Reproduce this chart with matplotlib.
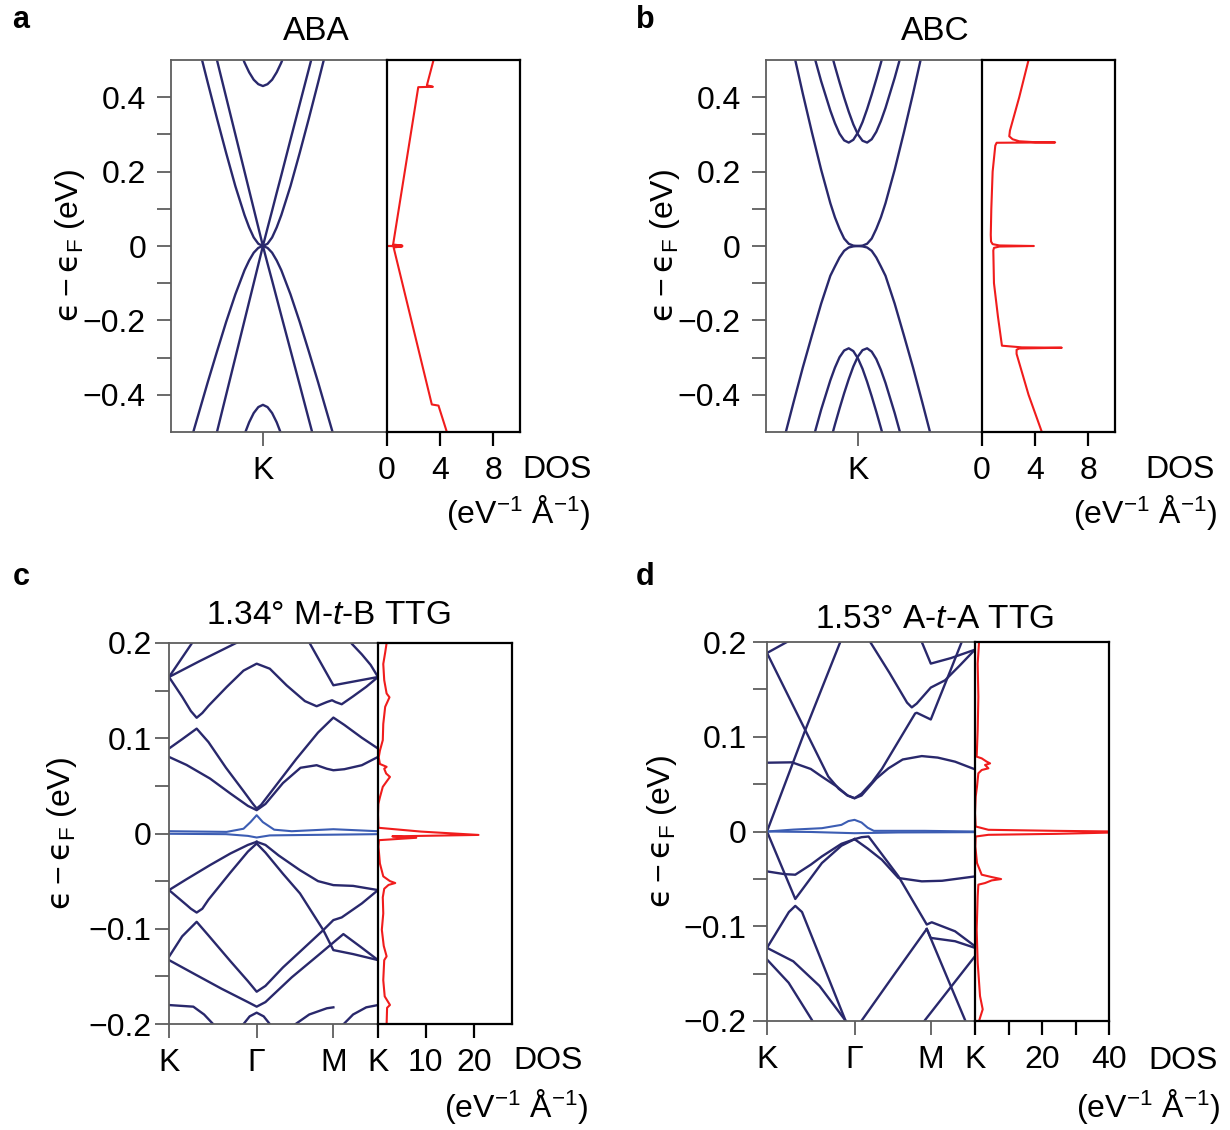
import matplotlib
matplotlib.use('Agg')
import matplotlib.pyplot as plt

plt.rcParams['font.family'] = ['Liberation Sans', 'DejaVu Sans']
plt.rcParams['mathtext.fontset'] = 'custom'
plt.rcParams['mathtext.rm'] = 'Liberation Sans'
plt.rcParams['mathtext.it'] = 'Liberation Sans:italic'
plt.rcParams['mathtext.sf'] = 'DejaVu Sans'

# ---------------- panel a : ABA trilayer ----------------
aba_k = [-0.76, -0.7, -0.6, -0.5, -0.4, -0.3, -0.2, -0.15, -0.1, -0.05, 0,
         0.05, 0.1, 0.15, 0.2, 0.3, 0.4, 0.5, 0.6, 0.7, 0.76]
aba_mono1 = [0.76, 0.7, 0.6, 0.5, 0.4, 0.3, 0.2, 0.15, 0.1, 0.05, 0,
             -0.047, -0.093, -0.14, -0.187, -0.28, -0.373, -0.467, -0.56, -0.653, -0.709]
aba_mono2 = [-0.76, -0.7, -0.6, -0.5, -0.4, -0.3, -0.2, -0.15, -0.1, -0.05, 0,
             0.048, 0.095, 0.143, 0.19, 0.286, 0.381, 0.476, 0.571, 0.666, 0.724]
aba_bl_cond = [0.597, 0.537, 0.439, 0.343, 0.250, 0.161, 0.083, 0.050, 0.023, 0.006, 0,
               0.006, 0.023, 0.050, 0.083, 0.161, 0.250, 0.343, 0.439, 0.537, 0.597]
aba_bl_val = [-0.502, -0.451, -0.366, -0.284, -0.204, -0.130, -0.065, -0.039, -0.018, -0.005, 0,
              -0.005, -0.018, -0.039, -0.065, -0.130, -0.204, -0.284, -0.366, -0.451, -0.502]
aba_gap_cond = [0.918, 0.867, 0.785, 0.705, 0.628, 0.556, 0.493, 0.467, 0.447, 0.435, 0.43,
                0.435, 0.447, 0.467, 0.493, 0.556, 0.628, 0.705, 0.785, 0.867, 0.918]
aba_gap_val = [-1.0, -0.945, -0.85, -0.757, -0.666, -0.582, -0.506, -0.474, -0.449, -0.433, -0.427,
               -0.433, -0.449, -0.474, -0.506, -0.582, -0.666, -0.757, -0.85, -0.945, -1.0]
aba_dos_e = [0.5, 0.432, 0.428, 0.427, 0.004, 0.001, 0.0, -0.001, -0.004, -0.426, -0.429, -0.5]
aba_dos = [3.5, 3.0, 3.45, 2.35, 0.46, 1.15, 0.05, 1.15, 0.5, 3.37, 3.87, 4.5]

# ---------------- panel b : ABC trilayer ----------------
abc_k = [-0.8, -0.7, -0.6, -0.5, -0.4, -0.3, -0.25, -0.2, -0.15, -0.1, -0.05, 0,
         0.05, 0.1, 0.15, 0.2, 0.25, 0.3, 0.4, 0.5, 0.6, 0.7, 0.8]
abc_low_cond = [0.62, 0.52, 0.41, 0.305, 0.205, 0.115, 0.077, 0.046, 0.02, 0.006, 0.001, 0,
                0.001, 0.006, 0.02, 0.046, 0.077, 0.115, 0.205, 0.305, 0.41, 0.52, 0.62]
abc_low_val = [-0.515, -0.42, -0.327, -0.24, -0.155, -0.08, -0.055, -0.031, -0.013, -0.004, -0.001, 0,
               -0.001, -0.004, -0.013, -0.031, -0.055, -0.08, -0.155, -0.24, -0.327, -0.42, -0.515]
abc_cb1 = [0.815, 0.719, 0.624, 0.532, 0.443, 0.364, 0.330, 0.302, 0.284, 0.278, 0.2855, 0.305,
           0.333, 0.368, 0.407, 0.4485, 0.492, 0.537, 0.63, 0.7245, 0.82, 0.915, 1.01]
abc_cb2 = [1.006, 0.908, 0.811, 0.715, 0.62, 0.528, 0.483, 0.44, 0.399, 0.361, 0.327, 0.3,
           0.283, 0.278, 0.287, 0.307, 0.336, 0.371, 0.452, 0.541, 0.633, 0.728, 0.825]
abc_vb1 = [-0.812, -0.716, -0.621, -0.529, -0.44, -0.361, -0.327, -0.299, -0.281, -0.275, -0.2825, -0.302,
           -0.33, -0.365, -0.404, -0.4455, -0.489, -0.534, -0.627, -0.72, -0.82, -0.91, -1.0]
abc_vb2 = [-1.003, -0.905, -0.808, -0.712, -0.617, -0.525, -0.48, -0.437, -0.396, -0.358, -0.324, -0.297,
           -0.28, -0.275, -0.284, -0.304, -0.333, -0.368, -0.449, -0.538, -0.63, -0.725, -0.822]
abc_dos_e = [0.5, 0.4, 0.31, 0.295, 0.287, 0.2815, 0.279, 0.2785, 0.2775, 0.27,
             0.2, 0.1, 0.03, 0.012, 0.005, 0.0015, 0.0, -0.0015, -0.005, -0.012,
             -0.1, -0.19, -0.268, -0.2725, -0.2735, -0.2755, -0.279, -0.29, -0.4, -0.5]
abc_dos = [3.5, 2.8, 2.1, 2.05, 2.3, 2.8, 4.0, 5.5, 1.1, 1.0,
           0.8, 0.7, 0.66, 0.68, 0.8, 1.3, 3.9, 1.3, 0.9, 0.85,
           0.9, 1.2, 1.5, 3.0, 6.0, 2.8, 2.6, 2.6, 3.5, 4.5]

# ---------------- panel c : 1.34 deg M-t-B TTG ----------------
mtb_ticks = [0, 1.0, 1.875, 2.384]
mtb_b1 = ([0, 0.30], [0.1643, 0.2050])
mtb_b2 = ([0, 0.35, 0.75, 0.80], [0.1643, 0.181, 0.1993, 0.2015])
mtb_b3 = ([0, 0.15, 0.25, 0.3156, 0.38, 0.45, 0.6578, 0.85, 1.0, 1.15, 1.342, 1.55, 1.684, 1.8, 1.86, 1.9,
           1.97, 2.1, 2.25, 2.384],
          [0.1643, 0.1436, 0.1285, 0.1215, 0.1265, 0.134, 0.1538, 0.171, 0.1783, 0.173, 0.1555, 0.139, 0.1336,
           0.138, 0.1399, 0.138, 0.1357, 0.144, 0.154, 0.1643])
mtb_b4 = ([1.57, 1.608, 1.875, 2.384], [0.2055, 0.1993, 0.1556, 0.1643])
mtb_b5 = ([2.06, 2.084, 2.2, 2.3, 2.384], [0.205, 0.1993, 0.188, 0.177, 0.1643])
mtb_b6 = ([0, 0.15, 0.3156, 0.45, 0.65, 0.85, 0.95, 1.0, 1.05, 1.2, 1.45, 1.7, 1.875, 2.0, 2.2, 2.384],
          [0.0892, 0.099, 0.1101, 0.096, 0.069, 0.0445, 0.032, 0.0262, 0.03, 0.048, 0.078, 0.106, 0.1217,
           0.114, 0.1005, 0.0892])
mtb_b7 = ([0, 0.2, 0.4677, 0.7, 0.9, 1.0, 1.1, 1.3, 1.5, 1.684, 1.8, 1.875, 2.0, 2.2, 2.384],
          [0.0804, 0.072, 0.0577, 0.042, 0.029, 0.0245, 0.031, 0.053, 0.069, 0.0717, 0.068, 0.0664, 0.0675,
           0.0717, 0.0804])
mtb_b8 = ([0, 0.2, 0.4677, 0.7, 0.9, 1.0], [-0.0594, -0.048, -0.0332, -0.021, -0.012, -0.0087])
mtb_b9 = ([0, 0.2, 0.25, 0.3156, 0.38, 0.45, 0.7, 0.9, 1.0],
          [-0.0594, -0.075, -0.079, -0.083, -0.079, -0.0695, -0.041, -0.019, -0.0105])
mtb_b10 = ([1.0, 1.1, 1.25, 1.494, 1.7, 1.875, 2.1, 2.384],
           [-0.0087, -0.012, -0.023, -0.0385, -0.05, -0.0542, -0.055, -0.0594])
mtb_b11 = ([1.0, 1.1, 1.3, 1.494, 1.76, 1.875, 2.1, 2.384],
           [-0.0105, -0.02, -0.0423, -0.0629, -0.1014, -0.1224, -0.1266, -0.1329])
mtb_b12 = ([0, 0.15, 0.3156, 0.45, 0.7, 0.9, 1.0, 1.1, 1.3, 1.5, 1.76, 1.875, 1.97, 2.2, 2.384],
           [-0.1294, -0.108, -0.0927, -0.107, -0.134, -0.155, -0.1661, -0.16, -0.1406, -0.1236, -0.1014,
            -0.0909, -0.0881, -0.0734, -0.0594])
mtb_b13 = ([0, 0.3, 0.6, 0.9, 1.0, 1.1, 1.4, 1.7, 1.989, 2.2, 2.384],
           [-0.1329, -0.148, -0.163, -0.177, -0.1818, -0.177, -0.151, -0.128, -0.1056, -0.12, -0.1329])
mtb_b14 = ([0, 0.2776, 0.4, 0.5057, 0.55], [-0.1801, -0.1818, -0.19, -0.2003, -0.205])
mtb_b15 = ([0.8479, 0.92, 1.0, 1.08, 1.152], [-0.2003, -0.192, -0.1881, -0.192, -0.2003])
mtb_b16 = ([1.44, 1.6, 1.8, 1.875], [-0.2003, -0.19, -0.1835, -0.1825])
mtb_b17 = ([1.99, 2.1, 2.25, 2.384], [-0.2003, -0.19, -0.1825, -0.1801])
mtb_f1 = ([0, 0.6578, 0.85, 0.93, 1.0, 1.07, 1.2, 1.4, 1.875, 2.384],
          [0.0024, 0.0017, 0.005, 0.012, 0.0192, 0.012, 0.004, 0.0024, 0.0045, 0.0024])
mtb_f2 = ([0, 0.65, 0.9, 1.0, 1.15, 1.6, 2.384],
          [-0.0003, -0.0007, -0.0025, -0.0042, -0.002, -0.0015, -0.0007])
mtb_dos_e = [0.2, 0.19, 0.178, 0.161, 0.147, 0.143, 0.133, 0.115, 0.098, 0.087,
             0.08, 0.073, 0.07, 0.068, 0.063, 0.0594, 0.056, 0.049, 0.038, 0.031,
             0.02, 0.006, 0.002, -0.0015, -0.003, -0.0045, -0.007, -0.014, -0.0315, -0.045,
             -0.05, -0.052, -0.054, -0.058, -0.067, -0.084, -0.101, -0.118, -0.129, -0.133,
             -0.154, -0.171, -0.18, -0.183, -0.2]
mtb_dos = [1.8, 1.5, 1.1, 1.3, 1.8, 2.4, 1.5, 1.1, 1.0, 0.4,
           0.15, 0.4, 1.8, 1.3, 1.7, 2.5, 2.0, 1.0, 0.4, 0.07,
           0.0, 0.1, 9.0, 21.0, 3.0, 8.0, 0.2, 0.1, 0.4, 1.1,
           2.5, 3.6, 2.2, 1.3, 1.0, 1.1, 0.8, 1.2, 1.8, 1.3,
           1.1, 1.4, 2.5, 1.9, 1.8]

# ---------------- panel d : 1.53 deg A-t-A TTG ----------------
ata_ticks = [0, 1.0, 1.871, 2.376]
ata_b1 = ([0, 0.3], [0.1884, 0.2037])
ata_b2 = ([0, 0.437, 0.7, 0.82, 0.92, 1.0, 1.08, 1.2, 1.312, 1.5, 1.692, 1.711, 1.871, 1.95, 2.1, 2.224, 2.26],
          [0.1884, 0.107, 0.058, 0.045, 0.038, 0.0351, 0.04, 0.052, 0.066, 0.095, 0.1246, 0.1253, 0.1182,
           0.1365, 0.171, 0.2, 0.208])
ata_b3 = ([0, 0.437, 0.837, 0.9], [0, 0.107, 0.2, 0.2147])
ata_b4 = ([0, 0.285, 0.5, 0.627, 0.8, 0.92, 1.0, 1.08, 1.25, 1.388, 1.55, 1.768, 1.95, 2.148, 2.376],
          [0.0726, 0.073, 0.066, 0.0579, 0.0473, 0.038, 0.0351, 0.038, 0.056, 0.0667, 0.076, 0.0796, 0.078,
           0.0737, 0.0656])
ata_b5 = ([1.179, 1.4, 1.6, 1.654, 1.71, 1.871, 2.034, 2.2, 2.376],
          [0.2, 0.1673, 0.136, 0.131, 0.135, 0.1519, 0.1596, 0.175, 0.192])
ata_b6 = ([1.75, 1.768, 1.871, 2.1, 2.376], [0.206, 0.2, 0.1772, 0.183, 0.1919])
ata_b7 = ([0, 0.323, 0.627, 0.85, 1.0], [0, -0.0712, -0.0333, -0.015, -0.0081])
ata_b8 = ([0, 0.2, 0.323, 0.5, 0.627, 0.85, 1.0], [-0.0421, -0.045, -0.0456, -0.035, -0.0263, -0.013, -0.0081])
ata_b9 = ([1.0, 1.15, 1.312, 1.502, 1.768, 2.0, 2.376], [-0.0081, -0.018, -0.0298, -0.0491, -0.0526, -0.052, -0.0474])
ata_b10 = ([1.0, 1.08, 1.16, 1.3, 1.502, 1.65, 1.825, 1.882, 2.148, 2.376],
           [-0.0081, -0.006, -0.0053, -0.0225, -0.0474, -0.0707, -0.0982, -0.0958, -0.1053, -0.1211])
ata_b11 = ([1.07, 1.464, 1.825, 1.871, 2.148, 2.376], [-0.201, -0.1495, -0.1028, -0.1123, -0.1158, -0.1228])
ata_b12 = ([1.825, 2.262, 2.28], [-0.1028, -0.1989, -0.203])
ata_b13 = ([2.376, 1.806, 1.79], [-0.1316, -0.1989, -0.201])
ata_b14 = ([0, 0.25, 0.323, 0.4, 0.894, 0.91], [-0.1228, -0.085, -0.0785, -0.085, -0.1989, -0.202])
ata_b15 = ([0, 0.3, 0.6, 0.9], [-0.1228, -0.137, -0.163, -0.2])
ata_b16 = ([0, 0.247, 0.513, 0.53], [-0.1351, -0.1596, -0.1989, -0.202])
ata_f1 = ([0, 0.3, 0.627, 0.85, 0.93, 1.0, 1.08, 1.15, 1.22, 1.8, 2.376],
          [0, 0.002, 0.0035, 0.007, 0.011, 0.0123, 0.0095, 0.004, 0.0007, 0.0007, 0.0])
ata_f2 = ([0, 0.5, 1.0, 1.5, 2.376], [0, -0.0005, -0.0018, -0.001, -0.0007])
ata_dos_e = [0.2, 0.177, 0.142, 0.107, 0.079, 0.0772, 0.0737, 0.0719, 0.0702, 0.0667,
             0.0649, 0.0614, 0.0474, 0.0368, 0.0193, 0.0053, 0.0018, 0.0007, 0.0, -0.001,
             -0.0025, -0.0035, -0.0053, -0.0158, -0.0333, -0.0456, -0.0481, -0.0502, -0.0516, -0.0544,
             -0.0561, -0.0684, -0.1035, -0.1386, -0.1737, -0.1877, -0.2]
ata_dos = [1.2, 0.8, 1.0, 0.8, 0.5, 2.0, 3.5, 4.5, 3.0, 4.0,
           2.0, 1.0, 0.6, 0.2, 0.0, 0.2, 4.0, 24.0, 42.0, 42.0,
           24.0, 4.0, 0.2, 0.1, 0.6, 2.0, 5.0, 7.8, 5.0, 3.0,
           1.0, 0.8, 0.5, 0.8, 1.5, 2.3, 1.2]

NAVY = '#29286c'
FLAT = '#3c5db3'
RED = '#f01c1c'
GREY = '#5e5e5e'
FS = 23
YLAB = r'$\mathsf{ϵ} - \mathsf{ϵ}_\mathrm{F}$ (eV)'
UNITS = r'(eV$^{\mathrm{−1}}$ Å$^{\mathrm{−1}}$)'

W, H = 1230, 1130
fig = plt.figure(figsize=(12.3, 11.3), dpi=100)


def box(x0, x1, y0, y1):
    # pixel box -> [left, bottom, width, height] in figure fraction
    return [x0 / W, 1 - y1 / H, (x1 - x0) / W, (y1 - y0) / H]


def band_axes(rect, ylim, ymaj, ymaj_lab, ymin, xlim, xt, xt_lab, ylab_x, ypad):
    ax = fig.add_axes(rect)
    ax.set_xlim(xlim)
    ax.set_ylim(ylim)
    for side in ('left', 'top', 'bottom'):
        ax.spines[side].set_color(GREY)
        ax.spines[side].set_linewidth(1.3)
    ax.spines['right'].set_visible(False)
    ax.set_yticks(ymaj)
    ax.set_yticklabels(ymaj_lab)
    ax.set_yticks(ymin, minor=True)
    ax.set_xticks(xt)
    ax.set_xticklabels(xt_lab)
    ax.tick_params(which='both', direction='out', length=10, width=1.3, color=GREY, labelsize=FS)
    ax.tick_params(axis='y', which='both', pad=ypad)
    ax.tick_params(axis='x', pad=7)
    ax.set_ylabel(YLAB, fontsize=FS, va='center')
    ax.yaxis.set_label_coords(ylab_x, 0.5)
    return ax


def dos_axes(rect, ylim, xlim, xt, xt_lab):
    axd = fig.add_axes(rect)
    axd.set_xlim(xlim)
    axd.set_ylim(ylim)
    for sp in axd.spines.values():
        sp.set_linewidth(1.6)
        sp.set_color('black')
    axd.set_yticks([])
    axd.set_xticks(xt)
    axd.set_xticklabels(xt_lab)
    axd.tick_params(axis='x', direction='out', length=10, width=1.6, labelsize=FS, pad=7)
    return axd


def panel_text(letter, lx, ly, title, tx, ty, dos_x, dos_y, units_x, units_y):
    fig.text(lx / W, 1 - ly / H, letter, fontsize=22, fontweight='bold', ha='center', va='center')
    fig.text(tx / W, 1 - ty / H, title, fontsize=24, ha='center', va='center')
    fig.text(dos_x / W, 1 - dos_y / H, 'DOS', fontsize=FS, ha='left', va='center')
    fig.text(units_x / W, 1 - units_y / H, UNITS, fontsize=FS, ha='right', va='center')


lab_ab = ['−0.4', '−0.2', '0', '0.2', '0.4']
lab_cd = ['−0.2', '−0.1', '0', '0.1', '0.2']

# panel a
ax = band_axes(box(171, 387, 60, 432), (-0.5, 0.5), [-0.4, -0.2, 0, 0.2, 0.4], lab_ab,
               [-0.3, -0.1, 0.1, 0.3], (-1.0, 1.35), [0], ['K'], -0.468, 8)
for e in (aba_mono1, aba_mono2, aba_bl_cond, aba_bl_val, aba_gap_cond, aba_gap_val):
    ax.plot(aba_k, e, color=NAVY, lw=1.7)
axd = dos_axes(box(387, 520, 60, 432), (-0.5, 0.5), (0, 10), [0, 4, 8], ['0', '4', '8'])
axd.plot(aba_dos, aba_dos_e, color=RED, lw=1.5)
panel_text('a', 21, 20, 'ABA', 316, 31, 522, 470, 590, 512)

# panel b
ax = band_axes(box(766, 982, 60, 432), (-0.5, 0.5), [-0.4, -0.2, 0, 0.2, 0.4], lab_ab,
               [-0.3, -0.1, 0.1, 0.3], (-1.0, 1.35), [0], ['K'], -0.468, 8)
for e in (abc_low_cond, abc_low_val, abc_cb1, abc_cb2, abc_vb1, abc_vb2):
    ax.plot(abc_k, e, color=NAVY, lw=1.7)
axd = dos_axes(box(982, 1115, 60, 432), (-0.5, 0.5), (0, 10), [0, 4, 8], ['0', '4', '8'])
axd.plot(abc_dos, abc_dos_e, color=RED, lw=1.5)
panel_text('b', 645, 20, 'ABC', 935, 31, 1145, 470, 1217, 512)

# panel c
ax = band_axes(box(169, 378, 643, 1024), (-0.2, 0.2), [-0.2, -0.1, 0, 0.1, 0.2], lab_cd,
               [-0.15, -0.05, 0.05, 0.15], (0, mtb_ticks[-1]), mtb_ticks, ['K', 'Γ', 'M', 'K'], -0.512, 2.5)
for s, e in (mtb_b1, mtb_b2, mtb_b3, mtb_b4, mtb_b5, mtb_b6, mtb_b7, mtb_b8, mtb_b9, mtb_b10,
             mtb_b11, mtb_b12, mtb_b13, mtb_b14, mtb_b15, mtb_b16, mtb_b17):
    ax.plot(s, e, color=NAVY, lw=1.7)
for s, e in (mtb_f1, mtb_f2):
    ax.plot(s, e, color=FLAT, lw=1.5)
axd = dos_axes(box(378, 512, 643, 1024), (-0.2, 0.2), (0, 28), [0, 10, 20], ['', '10', '20'])
axd.plot(mtb_dos, mtb_dos_e, color=RED, lw=1.5)
panel_text('c', 21, 577, '1.34° M-$t$-B TTG', 328, 615, 513, 1061, 588, 1106)

# panel d
ax = band_axes(box(767, 975, 642, 1021), (-0.2, 0.2), [-0.2, -0.1, 0, 0.1, 0.2], lab_cd,
               [-0.15, -0.05, 0.05, 0.15], (0, ata_ticks[-1]), ata_ticks, ['K', 'Γ', 'M', 'K'], -0.505, 4.5)
for s, e in (ata_b1, ata_b2, ata_b3, ata_b4, ata_b5, ata_b6, ata_b7, ata_b8, ata_b9, ata_b10,
             ata_b11, ata_b12, ata_b13, ata_b14, ata_b15, ata_b16):
    ax.plot(s, e, color=NAVY, lw=1.7)
for s, e in (ata_f1, ata_f2):
    ax.plot(s, e, color=FLAT, lw=1.5)
axd = dos_axes(box(975, 1109, 642, 1021), (-0.2, 0.2), (0, 40), [0, 10, 20, 30, 40],
               ['', '', '20', '', '40'])
axd.plot(ata_dos, ata_dos_e, color=RED, lw=1.5)
panel_text('d', 645, 577, '1.53° A-$t$-A TTG', 935, 619, 1148, 1061, 1220, 1106)

fig.savefig('out.png', dpi=100)
